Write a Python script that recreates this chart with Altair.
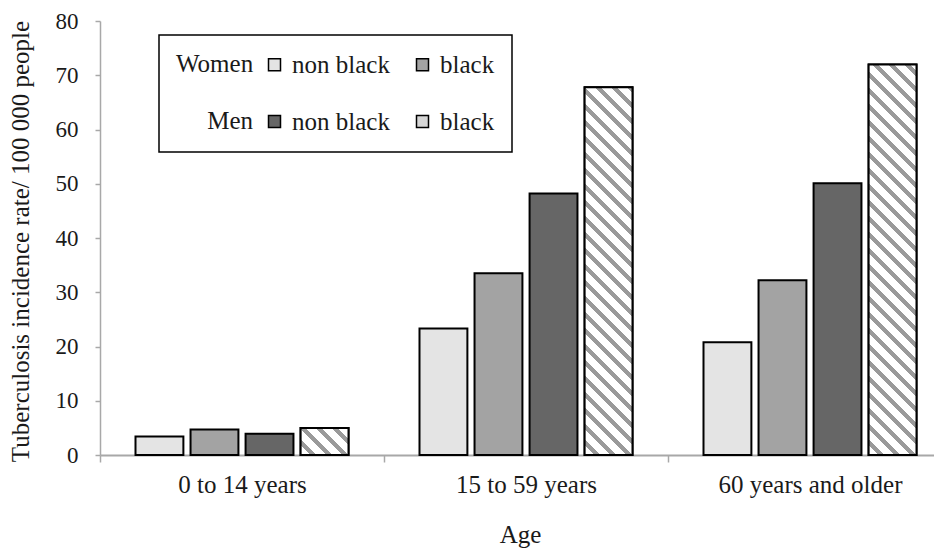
import altair as alt
import pandas as pd

# ---- data ----
ages = ["0 to 14 years", "15 to 59 years", "60 years and older"]
groups = ["Women non black", "Women black", "Men non black", "Men black"]
women_nonblack = [3.4, 23.3, 20.8]
women_black = [4.7, 33.5, 32.2]
men_nonblack = [3.9, 48.2, 50.1]
men_black = [5.0, 67.8, 72.0]
group_colors = {"Women non black": "#e4e4e4", "Women black": "#a3a3a3",
                "Men non black": "#666666", "Men black": "#d6d6d6"}
legend_order = ["Women non black", "Men non black", "Women black", "Men black"]
y_ticks = [0, 10, 20, 30, 40, 50, 60, 70, 80]

series = [women_nonblack, women_black, men_nonblack, men_black]
rows = []
for g, vals in zip(groups, series):
    for a, v in zip(ages, vals):
        rows.append({"Age": a, "Group": g, "Rate": v})
df = pd.DataFrame(rows)

FONT = "Liberation Serif"
TXT = "#1a1a1a"
AXC = "#a8a8a8"
NB = "\u00a0"
ZW = "\u200b"

PLOT_W = 834
PLOT_H = 434
X_RANGE = 852
Y_MAX = 80
PX_PER_UNIT = PLOT_H / Y_MAX

# xOffset band geometry (for hatch gradient sizing)
PI, PO = 0.13, 0.645
band_w = X_RANGE / 3
step = band_w / (4 - PI + 2 * PO)
BAR_W = step * (1 - PI)


def hatch(h, w=BAR_W, period=16.0, frac=0.4, col="#9a9a9a"):
    total = w + h
    p = period / total
    stops = []
    k = 0
    while k * p < 1:
        a = k * p
        b = min(a + (1 - frac) * p, 1)
        c = min((k + 1) * p, 1)
        stops += [alt.GradientStop(offset=a, color="white"),
                  alt.GradientStop(offset=b, color="white")]
        if b < 1:
            stops += [alt.GradientStop(offset=b, color=col),
                      alt.GradientStop(offset=c, color=col)]
        k += 1
    lam = (w + h) / (w * w + h * h)
    return alt.LinearGradient(gradient="linear", stops=stops,
                              x1=0, y1=1, x2=lam * w, y2=1 - lam * h)


x_enc = alt.X("Age:N", sort=ages,
              scale=alt.Scale(domain=ages, range=[0, X_RANGE], paddingInner=0, paddingOuter=0),
              axis=alt.Axis(title="Age", labelAngle=0, tickBand="extent", tickSize=7,
                            tickColor=AXC, tickWidth=1.5, domainColor=AXC, domainWidth=2,
                            labelFontSize=25, labelPadding=10, labelColor=TXT, labelFont=FONT,
                            labelLimit=400,
                            titleFont=FONT, titleFontSize=25, titleFontWeight="normal",
                            titleColor=TXT, titleX=420, titleY=87, titleBaseline="alphabetic",
                            titleAlign="center"))
xo_enc = alt.XOffset("Group:N", sort=groups,
                     scale=alt.Scale(domain=groups, paddingInner=PI, paddingOuter=PO))
y_enc = alt.Y("Rate:Q",
              scale=alt.Scale(domain=[0, Y_MAX], nice=False),
              axis=alt.Axis(title="Tuberculosis incidence rate/ 100 000 people", values=y_ticks,
                            grid=False, tickSize=5, tickColor=AXC, tickWidth=1.5,
                            domainColor=AXC, domainWidth=1.5, labelFontSize=23,
                            labelPadding=17, labelColor=TXT, labelFont=FONT,
                            titleFont=FONT, titleFontSize=25, titleFontWeight="normal",
                            titleColor=TXT, titleX=-80, titleY=220, titleAngle=270,
                            titleAlign="center", titleBaseline="middle"))

base = alt.Chart(df)

bars = base.mark_bar(stroke="black", strokeWidth=2).encode(
    x=x_enc, xOffset=xo_enc, y=y_enc,
    color=alt.Color("Group:N", sort=legend_order,
                    scale=alt.Scale(domain=legend_order,
                                    range=[group_colors[g] for g in legend_order]),
                    legend=alt.Legend(
                        title=["Women", ZW + NB * 5 + "Men"], orient="none",
                        legendX=59, legendY=14,
                        columns=2, columnPadding=20, rowPadding=31, padding=17,
                        strokeColor="black",
                        symbolType="square", symbolSize=144, symbolStrokeColor="black",
                        symbolStrokeWidth=1.5, symbolOpacity=1,
                        labelFont=FONT, labelFontSize=25, labelColor=TXT, labelOffset=5,
                        labelExpr="replace(replace(datum.label, 'Women ', ''), 'Men ', '')",
                        titleFont=FONT, titleFontSize=25, titleFontWeight="normal",
                        titleColor=TXT, titleOrient="left", titleAlign="left",
                        titleAnchor="start", titleBaseline="top", titleLineHeight=57,
                        titlePadding=8)),
)

layers = [bars]
for a, v in zip(ages, men_black):
    h = v * PX_PER_UNIT
    layers.append(
        base.transform_filter(
            (alt.datum.Group == "Men black") & (alt.datum.Age == a)
        ).mark_bar(fill=hatch(h), stroke="black", strokeWidth=2).encode(
            x=x_enc, xOffset=xo_enc, y=y_enc)
    )

chart = alt.layer(*layers).properties(
    width=PLOT_W, height=PLOT_H,
    autosize=alt.AutoSizeParams(type="none"),
    padding={"left": 92, "top": 13, "right": 0, "bottom": 93},
).configure(background="white", font=FONT).configure_view(
    strokeOpacity=0
).configure_legend(strokeWidth=1.5)

chart.save("out.html", embed_options={"renderer": "svg", "actions": False})
